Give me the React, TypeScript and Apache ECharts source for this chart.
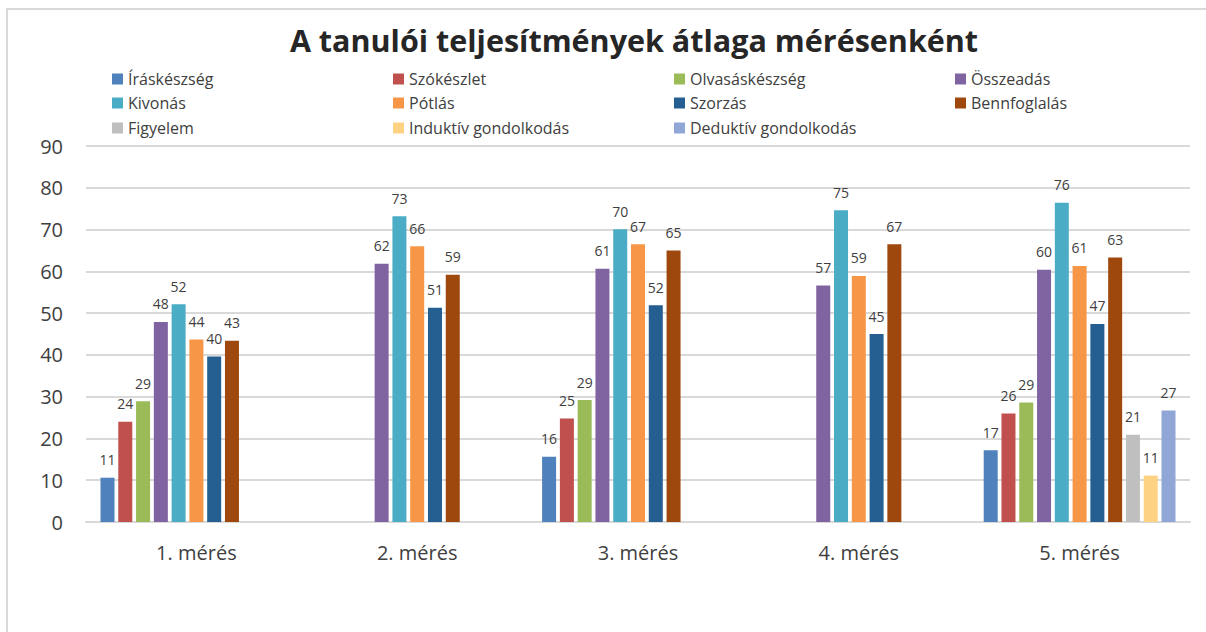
import React, { useEffect, useRef } from "react";
import * as echarts from "echarts";

const categories = ["1. mérés", "2. mérés", "3. mérés", "4. mérés", "5. mérés"];
const seriesNames = [
  "Íráskészség", "Szókészlet", "Olvasáskészség", "Összeadás",
  "Kivonás", "Pótlás", "Szorzás", "Bennfoglalás",
  "Figyelem", "Induktív gondolkodás", "Deduktív gondolkodás",
];
const colors = [
  "#4F81BD", "#C0504D", "#9BBB59", "#8064A2",
  "#4BACC6", "#F79646", "#255E91", "#9E480E",
  "#BFBFBF", "#FDD283", "#8FA6D6",
];
const irasKeszseg = [10.6, null, 15.6, null, 17.2];
const szokeszlet = [24.0, null, 24.8, null, 26.0];
const olvasasKeszseg = [28.9, null, 29.2, null, 28.6];
const osszeadas = [47.9, 61.8, 60.6, 56.6, 60.4];
const kivonas = [52.1, 73.2, 70.1, 74.6, 76.4];
const potlas = [43.7, 66.0, 66.5, 58.9, 61.3];
const szorzas = [39.6, 51.3, 51.9, 45.0, 47.4];
const bennfoglalas = [43.4, 59.2, 65.0, 66.5, 63.3];
const figyelem = [null, null, null, null, 20.9];
const induktiv = [null, null, null, null, 11.1];
const deduktiv = [null, null, null, null, 26.7];
const seriesValues = [
  irasKeszseg, szokeszlet, olvasasKeszseg, osszeadas,
  kivonas, potlas, szorzas, bennfoglalas,
  figyelem, induktiv, deduktiv,
];
const yTicks = { min: 0, max: 90, interval: 10 };
const chartTitle = "A tanulói teljesítmények átlaga mérésenként";

const FONT = "'Open Sans', 'Noto Sans', sans-serif";
const TEXT = "#404040";

export default function App() {
  const ref = useRef<HTMLDivElement>(null);
  useEffect(() => {
    if (!ref.current) return;
    const chart = echarts.init(ref.current, undefined, { renderer: "svg" });
    const legendCols = [107, 388, 669, 950];
    const legendRows = [66, 90, 115];
    const legends = seriesNames.map((name, i) => ({
      show: true,
      data: [name],
      left: legendCols[i % 4],
      top: legendRows[Math.floor(i / 4)],
      icon: "rect",
      itemWidth: 11,
      itemHeight: 11,
      itemGap: 5,
      selectedMode: false,
      textStyle: { fontFamily: FONT, fontSize: 16, color: TEXT },
    }));
    chart.setOption({
      animation: false,
      color: colors,
      title: {
        text: chartTitle,
        left: 629,
        top: 19,
        textAlign: "center",
        textStyle: { fontFamily: FONT, fontSize: 30.5, fontWeight: "bold", color: "#262626" },
      },
      legend: legends,
      graphic: [
        {
          type: "polyline",
          shape: { points: [[7, 900], [7, 9], [1400, 9]] },
          style: { fill: "none", stroke: "#d9d9d9", lineWidth: 2 },
          silent: true,
        },
      ],
      grid: { left: 86, right: 16, top: 146, bottom: 110, containLabel: false },
      xAxis: {
        type: "category",
        data: categories,
        axisLine: { show: true, lineStyle: { color: "#d9d9d9", width: 2 } },
        axisTick: { show: false },
        axisLabel: { fontFamily: FONT, fontSize: 20, color: TEXT, margin: 20 },
      },
      yAxis: {
        type: "value",
        min: yTicks.min,
        max: yTicks.max,
        interval: yTicks.interval,
        axisLine: { show: false },
        axisTick: { show: false },
        axisLabel: { fontFamily: FONT, fontSize: 20, color: TEXT, margin: 23 },
        splitLine: { lineStyle: { color: "#d9d9d9", width: 2 } },
      },
      series: seriesNames.map((name, i) => ({
        name,
        type: "bar",
        data: seriesValues[i],
        barWidth: 14,
        barGap: "27%",
        itemStyle: { color: colors[i] },
        label: {
          show: true,
          position: "top",
          distance: 11,
          fontFamily: FONT,
          fontSize: 14,
          color: TEXT,
          formatter: (p: any) => (p.value == null ? "" : String(Math.round(p.value))),
        },
      })),
    });
    return () => chart.dispose();
  }, []);
  return (
    <div
      ref={ref}
      style={{ position: "fixed", left: 0, top: 0, width: 1206, height: 632, background: "#fff" }}
    />
  );
}
